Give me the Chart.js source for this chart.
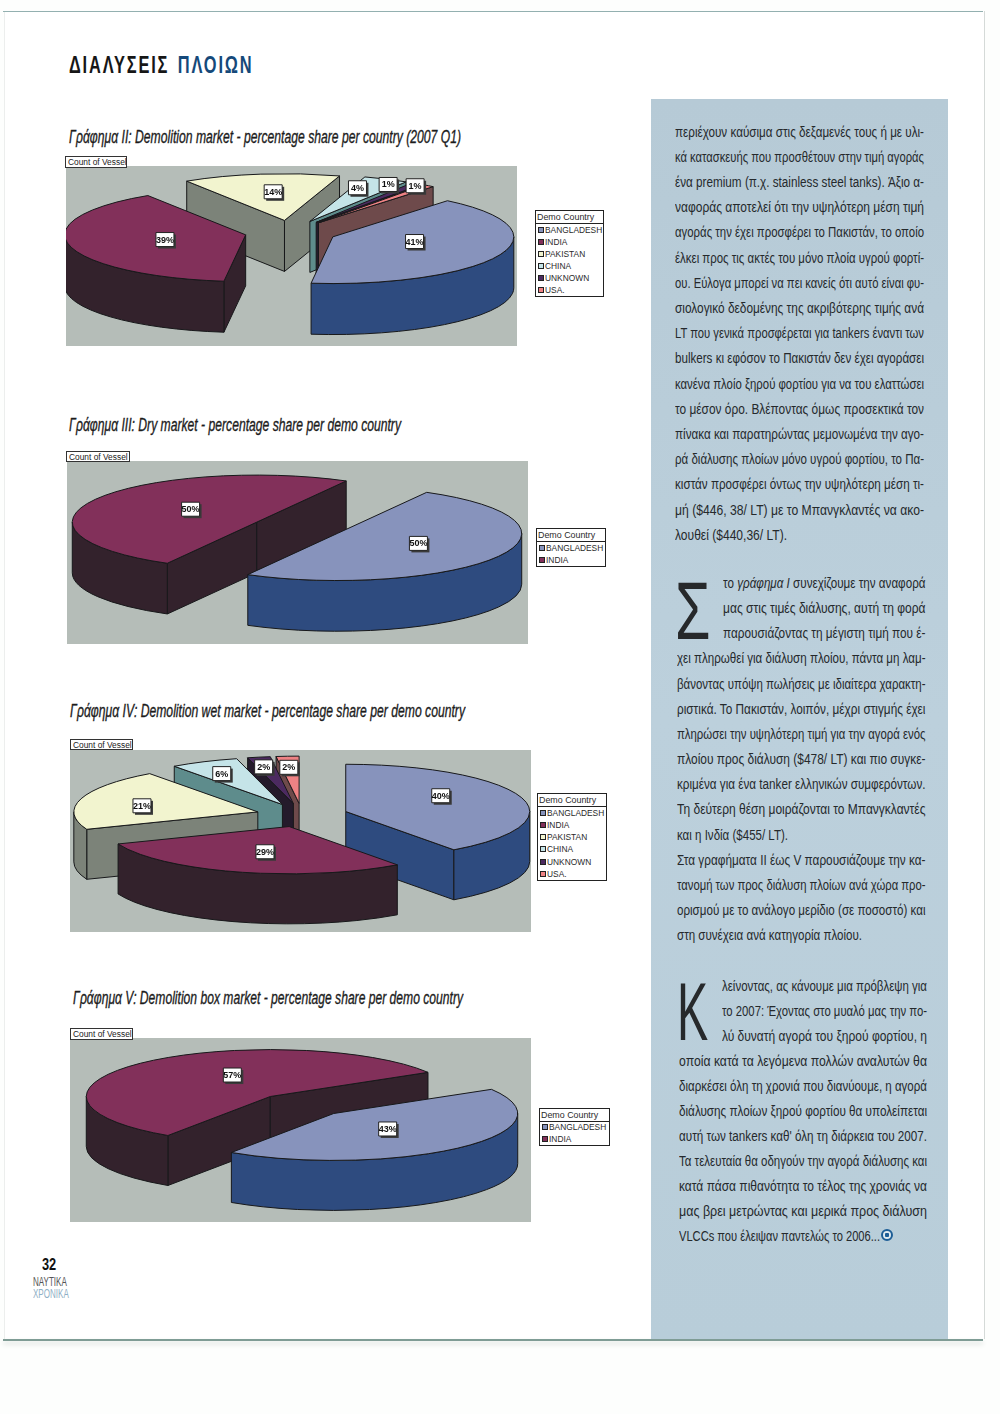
<!DOCTYPE html>
<html lang="el">
<head>
<meta charset="utf-8">
<title>Διαλύσεις πλοίων</title>
<script src="https://cdn.jsdelivr.net/npm/chart.js@4"></script>
<style>
    html, body { margin: 0; padding: 0; background: #fdfefd; }
    #page { position: relative; width: 1000px; height: 1414px; overflow: hidden; font-family: "Liberation Sans", sans-serif; }
    #sheet { position: absolute; left: 4px; top: 11px; width: 979px; height: 1328px; background: #fff; border-right: 1px solid #d5dad8; border-left: 1px solid #eceeed; }
    #topLine { position: absolute; left: 3px; top: 11px; width: 980px; height: 1px; background: #93b0b0; }
    #bottomLine { position: absolute; left: 3px; top: 1339px; width: 980px; height: 2px; background: #7f9c95; box-shadow: 0 3px 5px #d3d8d5; }
    #panel { position: absolute; left: 651px; top: 99px; width: 297px; height: 1240px; background: linear-gradient(#b6cad6, #bcd0dc 50%, #b8cdd9); }
    .line { position: absolute; white-space: nowrap; font-size: 15.5px; line-height: 20px; color: #25292c; transform-origin: left center; }
    .title { position: absolute; white-space: nowrap; font-style: italic; font-size: 18px; line-height: 22px; color: #1c1c1c; transform-origin: left center; -webkit-text-stroke: 0.35px #1c1c1c; }
    .heading { position: absolute; left: 69px; top: 52px; white-space: nowrap; font-weight: bold; font-size: 23px; line-height: 27px; letter-spacing: 2.6px; color: #161616; transform: scaleX(0.712); transform-origin: left center; }
    .heading span { color: #15497a; margin-left: 3px; }
    .dropcap { position: absolute; font-size: 82px; line-height: 82px; color: #27292b; transform-origin: left center; }
    .countBox { position: absolute; box-sizing: border-box; background: #fff; border: 1px solid #333; font: 8.4px/10px "Liberation Sans", sans-serif; color: #222; padding-left: 2px; white-space: nowrap; z-index: 2; }
    .plot { position: absolute; background: #b5bdb8; }
    .legend { position: absolute; box-sizing: border-box; background: #fff; border: 1px solid #222; font: 8.4px/12px "Liberation Sans", sans-serif; color: #2a2a2a; white-space: nowrap; overflow: hidden; }
    .legend .head { box-sizing: border-box; border-bottom: 1px solid #222; padding-left: 1px; height: 13px; line-height: 12px; font-size: 8.9px; }
    .legend .row { padding-left: 2px; }
    .legend i { display: inline-block; width: 4px; height: 4px; margin-right: 1px; border: 1px solid #222; vertical-align: 0; }
    #pageNo { position: absolute; left: 42px; top: 1256px; font-weight: bold; font-size: 16px; color: #111; transform: scaleX(0.8); transform-origin: left center; }
    .mag { position: absolute; left: 33px; font-size: 12px; line-height: 13px; transform: scaleX(0.67); transform-origin: left center; }
    #mark { position: absolute; left: 881px; top: 1229px; width: 8px; height: 8px; border: 2px solid #1c5d96; border-radius: 50%; background: radial-gradient(circle, #1c5d96 0 2px, #dfeaf0 2.5px); }
</style>
</head>
<body>
<div id="page">
    <div id="sheet"></div>
    <div id="topLine"></div>
    <div id="bottomLine"></div>
    <div id="panel"></div>
    <div class="heading">ΔΙΑΛΥΣΕΙΣ<span> ΠΛΟΙΩΝ</span></div>
    <div id="pageNo">32</div>
    <div class="mag" style="top:1276px;color:#555">ΝΑΥΤΙΚΑ</div>
    <div class="mag" style="top:1288px;color:#8fb0c6">ΧΡΟΝΙΚΑ</div>
    <div class="dropcap" style="left:675px;top:570px;transform:scaleX(0.7)">Σ</div>
    <div class="dropcap" style="left:677px;top:971px;transform:scaleX(0.57)">Κ</div>
    <div id="mark"></div>
</div>

<script>
"use strict";

// Data
const countriesFull = ["BANGLADESH", "INDIA", "PAKISTAN", "CHINA", "UNKNOWN", "USA."];
const countriesTwo = ["BANGLADESH", "INDIA"];
const shareII = [41, 39, 14, 4, 1, 1];
const shareIII = [50, 50];
const shareIV = [40, 29, 21, 6, 2, 2];
const shareV = [43, 57];

const legendTitle = "Demo Country";
const fieldName = "Count of Vessel";

const titleII = "Γράφημα ΙΙ:  Demolition market - percentage share per country (2007 Q1)";
const titleIII = "Γράφημα ΙΙΙ:  Dry market - percentage share per demo country";
const titleIV = "Γράφημα ΙV:  Demolition wet market - percentage share per demo country";
const titleV = "Γράφημα V:  Demolition box market - percentage share per demo country";

// Colours of the slice tops and of their side walls
const topColours = ["#8793bc", "#82305a", "#f2f4cf", "#c5e4e8", "#4c2a60", "#ee8284"];
const wallColours = ["#2e4b7f", "#33222c", "#7c8379", "#5e8c8c", "#241a2b", "#6e4a4b"];

const block1 = [
    "περιέχουν καύσιμα στις δεξαμενές τους ή με υλι-",
    "κά κατασκευής που προσθέτουν στην τιμή αγοράς",
    "ένα premium (π.χ. stainless steel tanks). Άξιο α-",
    "ναφοράς αποτελεί ότι την υψηλότερη μέση τιμή",
    "αγοράς την έχει προσφέρει το Πακιστάν, το οποίο",
    "έλκει προς τις ακτές του μόνο πλοία υγρού φορτί-",
    "ου. Εύλογα μπορεί να πει κανείς ότι αυτό είναι φυ-",
    "σιολογικό δεδομένης της ακριβότερης τιμής ανά",
    "LT που γενικά προσφέρεται για tankers έναντι των",
    "bulkers κι εφόσον το Πακιστάν δεν έχει αγοράσει",
    "κανένα πλοίο ξηρού φορτίου για να του ελαττώσει",
    "το μέσον όρο. Βλέποντας όμως προσεκτικά τον",
    "πίνακα και παρατηρώντας μεμονωμένα την αγο-",
    "ρά διάλυσης πλοίων μόνο υγρού φορτίου, το Πα-",
    "κιστάν προσφέρει όντως την υψηλότερη μέση τι-",
    "μή ($446, 38/ LT) με το Μπανγκλαντές να ακο-",
    "λουθεί ($440,36/ LT)."
];
const block2 = [
    "το <i>γράφημα Ι</i> συνεχίζουμε την αναφορά",
    "μας στις τιμές διάλυσης, αυτή τη φορά",
    "παρουσιάζοντας τη μέγιστη τιμή που έ-",
    "χει πληρωθεί για διάλυση πλοίου, πάντα μη λαμ-",
    "βάνοντας υπόψη πωλήσεις με ιδιαίτερα χαρακτη-",
    "ριστικά. Το Πακιστάν, λοιπόν, μέχρι στιγμής έχει",
    "πληρώσει την υψηλότερη τιμή για την αγορά ενός",
    "πλοίου προς διάλυση ($478/ LT) και πιο συγκε-",
    "κριμένα για ένα tanker ελληνικών συμφερόντων.",
    "Τη δεύτερη θέση μοιράζονται το Μπανγκλαντές",
    "και η Ινδία ($455/ LT).",
    "Στα γραφήματα ΙΙ έως V παρουσιάζουμε την κα-",
    "τανομή των προς διάλυση πλοίων ανά χώρα προ-",
    "ορισμού με το ανάλογο μερίδιο (σε ποσοστό) και",
    "στη συνέχεια ανά κατηγορία πλοίου."
];
const block3 = [
    "λείνοντας, ας κάνουμε μια πρόβλεψη για",
    "το 2007: Έχοντας στο μυαλό μας την πο-",
    "λύ δυνατή αγορά του ξηρού φορτίου, η",
    "οποία κατά τα λεγόμενα πολλών αναλυτών θα",
    "διαρκέσει όλη τη χρονιά που διανύουμε, η αγορά",
    "διάλυσης πλοίων ξηρού φορτίου θα υπολείπεται",
    "αυτή των tankers καθ' όλη τη διάρκεια του 2007.",
    "Τα τελευταία θα οδηγούν την αγορά διάλυσης και",
    "κατά πάσα πιθανότητα το τέλος της χρονιάς να",
    "μας βρει μετρώντας και μερικά προς διάλυση",
    "VLCCs  που έλειψαν παντελώς το 2006..."
];

const page = document.getElementById("page");

// Put one line of text on the page and squeeze it to the wanted width
function putLine(html, x, midY, width, cssClass) {
    const el = document.createElement("div");
    el.className = cssClass;
    el.innerHTML = html;
    page.appendChild(el);
    el.style.left = x + "px";
    el.style.top = (midY - el.offsetHeight / 2) + "px";
    const natural = el.getBoundingClientRect().width;
    el.style.transform = "scaleX(" + (width / natural) + ")";
}

// Lines that end a paragraph are shorter than the column: their width is in "short"
function putBlock(lines, x, right, firstY, step, indent, indentX, short) {
    lines.forEach(function(text, i) {
        const left = i < indent ? indentX : x;
        const width = short[i] || (right - left);
        putLine(text, left, firstY + i * step, width, "line");
    });
}

putBlock(block1, 675, 924, 131.5, 25.2, 0, 0, { 16: 112 });
putBlock(block2, 677, 925.5, 583, 25.15, 3, 723, { 10: 111, 14: 185 });
putBlock(block3, 679, 927, 986, 25, 3, 722, { 10: 201 });

// Draw the pie as a flattened, exploded 3D pie from the arcs that Chart.js has laid out
const pie3d = {
    id: "pie3d",
    beforeDatasetsDraw(chart, args, opts) {
        const ctx = chart.ctx;
        const k = opts.squash;
        const depth = opts.depth;
        const slices = chart.getDatasetMeta(0).data.map(function(arc, i) {
            const p = arc.getProps(["x", "y", "startAngle", "endAngle", "outerRadius"]);
            const mid = (p.startAngle + p.endAngle) / 2;
            return {
                arc: arc, i: i, cx: p.x, cy: p.y, s: p.startAngle, e: p.endAngle, r: p.outerRadius, mid: mid,
                ax: p.x + Math.cos(mid) * opts.explode,
                ay: p.y + Math.sin(mid) * opts.explode * k
            };
        });

        // Slices further back go first
        const order = slices.slice().sort(function(a, b) { return a.ay - b.ay; });
        ctx.save();
        ctx.lineWidth = 1;
        ctx.lineJoin = "round";
        ctx.strokeStyle = "#17181a";
        order.forEach(function(sl) {
            ctx.fillStyle = opts.walls[sl.i];
            if (Math.cos(sl.s) < 0) radialWall(ctx, sl, sl.s, k, depth);
            if (Math.cos(sl.e) > 0) radialWall(ctx, sl, sl.e, k, depth);
            // Only the part of the rim that faces the viewer gets a wall
            [-2, 0, 2].forEach(function(n) {
                const a0 = Math.max(sl.s, n * Math.PI);
                const a1 = Math.min(sl.e, (n + 1) * Math.PI);
                if (a1 > a0) {
                    ctx.beginPath();
                    ctx.ellipse(sl.ax, sl.ay, sl.r, sl.r * k, 0, a0, a1);
                    ctx.ellipse(sl.ax, sl.ay + depth, sl.r, sl.r * k, 0, a1, a0, true);
                    ctx.closePath();
                    ctx.fill();
                    ctx.stroke();
                }
            });
            // Top face: the library's own arc, flattened
            ctx.save();
            ctx.translate(sl.ax, sl.ay);
            ctx.scale(1, k);
            ctx.translate(-sl.cx, -sl.cy);
            sl.arc.draw(ctx);
            ctx.restore();
            ctx.beginPath();
            ctx.moveTo(sl.ax, sl.ay);
            ctx.ellipse(sl.ax, sl.ay, sl.r, sl.r * k, 0, sl.s, sl.e);
            ctx.closePath();
            ctx.stroke();
        });

        // Percentage labels
        slices.forEach(function(sl) {
            const lx = sl.ax + Math.cos(sl.mid) * sl.r * 0.5 + opts.labelNudge[sl.i][0];
            const ly = sl.ay + Math.sin(sl.mid) * sl.r * k * 0.5 + opts.labelNudge[sl.i][1];
            const text = chart.data.datasets[0].data[sl.i] + "%";
            ctx.fillStyle = "#3a3a3a";
            ctx.fillRect(lx - 7.5, ly - 5.5, 18, 14);
            ctx.fillStyle = "#fff";
            ctx.fillRect(lx - 9.5, ly - 7.5, 18, 14);
            ctx.strokeStyle = "#222";
            ctx.strokeRect(lx - 9.5, ly - 7.5, 18, 14);
            ctx.fillStyle = "#111";
            ctx.font = "bold 9px 'Liberation Sans', sans-serif";
            ctx.textAlign = "center";
            ctx.textBaseline = "middle";
            ctx.fillText(text, lx - 0.5, ly);
        });
        ctx.restore();
        return false;
    }
};

function radialWall(ctx, sl, angle, k, depth) {
    const rimX = sl.ax + Math.cos(angle) * sl.r;
    const rimY = sl.ay + Math.sin(angle) * sl.r * k;
    ctx.beginPath();
    ctx.moveTo(sl.ax, sl.ay);
    ctx.lineTo(rimX, rimY);
    ctx.lineTo(rimX, rimY + depth);
    ctx.lineTo(sl.ax, sl.ay + depth);
    ctx.closePath();
    ctx.fill();
    ctx.stroke();
}

// One chart with its title, field button, grey plot area and legend
function maakPie(c) {
    const plot = c.plot;
    const box = document.createElement("div");
    box.className = "plot";
    box.style.cssText = "left:" + plot[0] + "px;top:" + plot[1] + "px;width:" + plot[2] + "px;height:" + plot[3] + "px";
    const canvas = document.createElement("canvas");
    canvas.width = plot[2];
    canvas.height = plot[3];
    canvas.style.display = "block";
    box.appendChild(canvas);
    page.appendChild(box);

    const cx = c.centre[0] - plot[0];
    const cy = c.centre[1] - plot[1];
    new Chart(canvas, {
        type: "pie",
        data: {
            labels: c.labels,
            datasets: [{
                data: c.values,
                backgroundColor: topColours.slice(0, c.values.length),
                borderWidth: 0,
                radius: c.radius
            }]
        },
        options: {
            responsive: false,
            animation: false,
            rotation: c.rotation,
            layout: {
                padding: {
                    left: Math.max(0, 2 * cx - plot[2]),
                    right: Math.max(0, plot[2] - 2 * cx),
                    top: Math.max(0, 2 * cy - plot[3]),
                    bottom: Math.max(0, plot[3] - 2 * cy)
                }
            },
            plugins: {
                legend: { display: false },
                tooltip: { enabled: false },
                pie3d: {
                    squash: c.squash,
                    depth: c.depth,
                    explode: 46,
                    walls: wallColours,
                    labelNudge: c.labelNudge
                }
            }
        },
        plugins: [pie3d]
    });

    const button = document.createElement("div");
    button.className = "countBox";
    button.textContent = fieldName;
    button.style.cssText = "left:" + c.button[0] + "px;top:" + c.button[1] + "px;width:" + c.button[2] + "px;height:" + c.button[3] + "px";
    page.appendChild(button);

    const legend = document.createElement("div");
    legend.className = "legend";
    legend.style.cssText = "left:" + c.legend[0] + "px;top:" + c.legend[1] + "px;width:" + c.legend[2] + "px;height:" + c.legend[3] + "px";
    // The rows share the room that is left under the legend title
    const rowHeight = (c.legend[3] - 15) / c.labels.length;
    let html = '<div class="head">' + legendTitle + "</div>";
    c.labels.forEach(function(name, i) {
        html += '<div class="row" style="height:' + rowHeight + 'px;line-height:' + rowHeight + 'px"><i style="background:' + topColours[i] + '"></i>' + name + "</div>";
    });
    legend.innerHTML = html;
    page.appendChild(legend);

    putLine(c.title, c.titleAt[0], c.titleAt[1], c.titleAt[2], "title");
}

maakPie({
    title: titleII, titleAt: [69, 137, 392],
    labels: countriesFull, values: shareII,
    plot: [66, 166, 451, 180], centre: [290.5, 232.2], radius: 181, rotation: 39.3, squash: 0.258, depth: 51,
    button: [65, 156, 62, 12], legend: [535, 210, 69, 87],
    labelNudge: [[-1, -4], [8, 0], [1, -5], [10, -12], [22, -18], [42, -18]]
});
maakPie({
    title: titleIII, titleAt: [69, 425, 332],
    labels: countriesTwo, values: shareIII,
    plot: [67, 461, 461, 183], centre: [297, 527.8], radius: 184.5, rotation: 29, squash: 0.255, depth: 50.7,
    button: [66, 451, 64, 11], legend: [536, 528, 70, 39],
    labelNudge: [[1, -1], [15, -1]]
});
maakPie({
    title: titleIV, titleAt: [70, 711, 395],
    labels: countriesFull, values: shareIV,
    plot: [70, 750, 461, 182], centre: [302, 815.2], radius: 184, rotation: 0, squash: 0.257, depth: 50,
    button: [70, 739, 63, 11], legend: [537, 793, 70, 88],
    labelNudge: [[8, -8], [2, 3], [-27, 1], [-21, -9], [-12, -13], [-4, -12]]
});
maakPie({
    title: titleV, titleAt: [72.5, 998, 390],
    labels: countriesTwo, values: shareV,
    plot: [70, 1038, 461, 184], centre: [302, 1105], radius: 184, rotation: 59, squash: 0.255, depth: 50,
    button: [70, 1028, 63, 12], legend: [539, 1108, 71, 38],
    labelNudge: [[-9, -1], [26, -4]]
});
</script>
</body>
</html>
